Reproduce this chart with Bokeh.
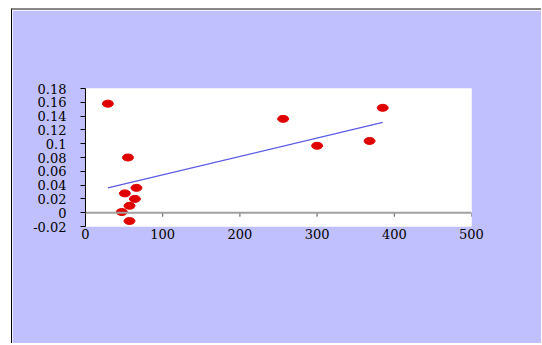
import math
from bokeh.plotting import figure
from bokeh.models import FixedTicker, CustomJSTickFormatter, Range1d, Span
from bokeh.embed import file_html
from bokeh.resources import INLINE

# data
x_vals = [29, 55, 51, 66, 64, 57, 47, 57, 256, 300, 368, 385]
y_vals = [0.158, 0.080, 0.028, 0.036, 0.020, 0.010, 0.001, -0.012, 0.136, 0.097, 0.104, 0.152]
trend_x = [29, 385]
trend_y = [0.036, 0.131]
x_ticks = [0, 100, 200, 300, 400, 500]
y_ticks = [-0.02, 0, 0.02, 0.04, 0.06, 0.08, 0.1, 0.12, 0.14, 0.16, 0.18]

FONT = "DejaVu Serif"

p = figure(width=530, height=335, output_backend="svg", toolbar_location=None,
           x_range=Range1d(0, 500), y_range=Range1d(-0.02, 0.18),
           min_border_left=73, min_border_right=71, min_border_top=78, min_border_bottom=119)
p.border_fill_color = "#C0C0FF"
p.background_fill_color = "white"
p.outline_line_color = None
p.grid.visible = False
p.styles = {"border-top": "2px solid #888888", "border-left": "1px solid black",
            "margin-left": "11px", "margin-top": "8px"}

# left y axis
ya = p.yaxis[0]
ya.ticker = FixedTicker(ticks=y_ticks)
ya.formatter = CustomJSTickFormatter(code="return String(tick)")
ya.axis_line_color = "black"
ya.major_tick_out = 5
ya.major_tick_in = 0
ya.minor_tick_line_color = None
ya.major_label_standoff = 14
ya.major_label_text_font = FONT
ya.major_label_text_font_size = "13px"
ya.major_label_text_color = "black"

# bottom axis (labels only)
xa = p.xaxis[0]
xa.ticker = FixedTicker(ticks=x_ticks)
xa.axis_line_color = None
xa.major_tick_line_color = None
xa.minor_tick_line_color = None
xa.major_label_standoff = -4
xa.major_label_text_font = FONT
xa.major_label_text_font_size = "13px"
xa.major_label_text_color = "black"

# axis line at y = 0 with downward tick marks
p.add_layout(Span(location=0, dimension="width", line_color="#A0A0A0", line_width=2))
p.ray(x=x_ticks, y=[0] * len(x_ticks), length=4, length_units="screen",
      angle=-math.pi / 2, line_color="#505050", line_width=1)

p.line(trend_x, trend_y, line_color="#5a5ae6", line_width=1.2)
p.ellipse(x=x_vals, y=y_vals, width=11, height=7, width_units="screen", height_units="screen",
          fill_color="#E00000", line_color="#E00000")

open("out.html", "w").write(file_html(p, INLINE))
